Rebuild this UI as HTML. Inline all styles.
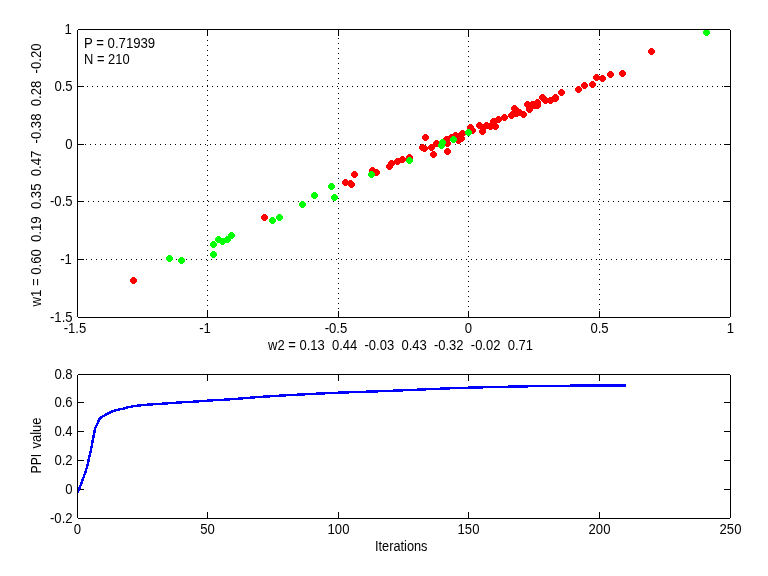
<!DOCTYPE html>
<html><head><meta charset="utf-8"><title>figure</title>
<style>html,body{margin:0;padding:0;background:#fff;}body{width:768px;height:576px;overflow:hidden;}svg{display:block;will-change:transform;}text{font-family:"Liberation Sans",sans-serif;font-size:14.50px;fill:#000;white-space:pre;}</style></head><body>
<svg width="768" height="576" viewBox="0 0 768 576">
<rect x="0" y="0" width="768" height="576" fill="#fff"/>
<g shape-rendering="crispEdges" fill="#000">
<path d="M82 86h1v1h-1zM87 86h1v1h-1zM92 86h1v1h-1zM97 86h1v1h-1zM102 86h1v1h-1zM107 86h1v1h-1zM112 86h1v1h-1zM117 86h1v1h-1zM122 86h1v1h-1zM127 86h1v1h-1zM132 86h1v1h-1zM137 86h1v1h-1zM142 86h1v1h-1zM147 86h1v1h-1zM152 86h1v1h-1zM157 86h1v1h-1zM162 86h1v1h-1zM167 86h1v1h-1zM172 86h1v1h-1zM177 86h1v1h-1zM182 86h1v1h-1zM187 86h1v1h-1zM192 86h1v1h-1zM197 86h1v1h-1zM202 86h1v1h-1zM207 86h1v1h-1zM212 86h1v1h-1zM217 86h1v1h-1zM222 86h1v1h-1zM227 86h1v1h-1zM232 86h1v1h-1zM237 86h1v1h-1zM242 86h1v1h-1zM247 86h1v1h-1zM252 86h1v1h-1zM257 86h1v1h-1zM262 86h1v1h-1zM267 86h1v1h-1zM272 86h1v1h-1zM277 86h1v1h-1zM282 86h1v1h-1zM287 86h1v1h-1zM292 86h1v1h-1zM297 86h1v1h-1zM302 86h1v1h-1zM307 86h1v1h-1zM312 86h1v1h-1zM317 86h1v1h-1zM322 86h1v1h-1zM327 86h1v1h-1zM332 86h1v1h-1zM337 86h1v1h-1zM342 86h1v1h-1zM347 86h1v1h-1zM352 86h1v1h-1zM357 86h1v1h-1zM362 86h1v1h-1zM367 86h1v1h-1zM372 86h1v1h-1zM377 86h1v1h-1zM382 86h1v1h-1zM387 86h1v1h-1zM392 86h1v1h-1zM397 86h1v1h-1zM402 86h1v1h-1zM407 86h1v1h-1zM412 86h1v1h-1zM417 86h1v1h-1zM422 86h1v1h-1zM427 86h1v1h-1zM432 86h1v1h-1zM437 86h1v1h-1zM442 86h1v1h-1zM447 86h1v1h-1zM452 86h1v1h-1zM457 86h1v1h-1zM462 86h1v1h-1zM467 86h1v1h-1zM472 86h1v1h-1zM477 86h1v1h-1zM482 86h1v1h-1zM487 86h1v1h-1zM492 86h1v1h-1zM497 86h1v1h-1zM502 86h1v1h-1zM507 86h1v1h-1zM512 86h1v1h-1zM517 86h1v1h-1zM522 86h1v1h-1zM527 86h1v1h-1zM532 86h1v1h-1zM537 86h1v1h-1zM542 86h1v1h-1zM547 86h1v1h-1zM552 86h1v1h-1zM557 86h1v1h-1zM562 86h1v1h-1zM567 86h1v1h-1zM572 86h1v1h-1zM577 86h1v1h-1zM582 86h1v1h-1zM587 86h1v1h-1zM592 86h1v1h-1zM597 86h1v1h-1zM602 86h1v1h-1zM607 86h1v1h-1zM612 86h1v1h-1zM617 86h1v1h-1zM622 86h1v1h-1zM627 86h1v1h-1zM632 86h1v1h-1zM637 86h1v1h-1zM642 86h1v1h-1zM647 86h1v1h-1zM652 86h1v1h-1zM657 86h1v1h-1zM662 86h1v1h-1zM667 86h1v1h-1zM672 86h1v1h-1zM677 86h1v1h-1zM682 86h1v1h-1zM687 86h1v1h-1zM692 86h1v1h-1zM697 86h1v1h-1zM702 86h1v1h-1zM707 86h1v1h-1zM712 86h1v1h-1zM717 86h1v1h-1zM722 86h1v1h-1zM727 86h1v1h-1zM80 144h1v1h-1zM85 144h1v1h-1zM90 144h1v1h-1zM95 144h1v1h-1zM100 144h1v1h-1zM105 144h1v1h-1zM110 144h1v1h-1zM115 144h1v1h-1zM120 144h1v1h-1zM125 144h1v1h-1zM130 144h1v1h-1zM135 144h1v1h-1zM140 144h1v1h-1zM145 144h1v1h-1zM150 144h1v1h-1zM155 144h1v1h-1zM160 144h1v1h-1zM165 144h1v1h-1zM170 144h1v1h-1zM175 144h1v1h-1zM180 144h1v1h-1zM185 144h1v1h-1zM190 144h1v1h-1zM195 144h1v1h-1zM200 144h1v1h-1zM205 144h1v1h-1zM210 144h1v1h-1zM215 144h1v1h-1zM220 144h1v1h-1zM225 144h1v1h-1zM230 144h1v1h-1zM235 144h1v1h-1zM240 144h1v1h-1zM245 144h1v1h-1zM250 144h1v1h-1zM255 144h1v1h-1zM260 144h1v1h-1zM265 144h1v1h-1zM270 144h1v1h-1zM275 144h1v1h-1zM280 144h1v1h-1zM285 144h1v1h-1zM290 144h1v1h-1zM295 144h1v1h-1zM300 144h1v1h-1zM305 144h1v1h-1zM310 144h1v1h-1zM315 144h1v1h-1zM320 144h1v1h-1zM325 144h1v1h-1zM330 144h1v1h-1zM335 144h1v1h-1zM340 144h1v1h-1zM345 144h1v1h-1zM350 144h1v1h-1zM355 144h1v1h-1zM360 144h1v1h-1zM365 144h1v1h-1zM370 144h1v1h-1zM375 144h1v1h-1zM380 144h1v1h-1zM385 144h1v1h-1zM390 144h1v1h-1zM395 144h1v1h-1zM400 144h1v1h-1zM405 144h1v1h-1zM410 144h1v1h-1zM415 144h1v1h-1zM420 144h1v1h-1zM425 144h1v1h-1zM430 144h1v1h-1zM435 144h1v1h-1zM440 144h1v1h-1zM445 144h1v1h-1zM450 144h1v1h-1zM455 144h1v1h-1zM460 144h1v1h-1zM465 144h1v1h-1zM470 144h1v1h-1zM475 144h1v1h-1zM480 144h1v1h-1zM485 144h1v1h-1zM490 144h1v1h-1zM495 144h1v1h-1zM500 144h1v1h-1zM505 144h1v1h-1zM510 144h1v1h-1zM515 144h1v1h-1zM520 144h1v1h-1zM525 144h1v1h-1zM530 144h1v1h-1zM535 144h1v1h-1zM540 144h1v1h-1zM545 144h1v1h-1zM550 144h1v1h-1zM555 144h1v1h-1zM560 144h1v1h-1zM565 144h1v1h-1zM570 144h1v1h-1zM575 144h1v1h-1zM580 144h1v1h-1zM585 144h1v1h-1zM590 144h1v1h-1zM595 144h1v1h-1zM600 144h1v1h-1zM605 144h1v1h-1zM610 144h1v1h-1zM615 144h1v1h-1zM620 144h1v1h-1zM625 144h1v1h-1zM630 144h1v1h-1zM635 144h1v1h-1zM640 144h1v1h-1zM645 144h1v1h-1zM650 144h1v1h-1zM655 144h1v1h-1zM660 144h1v1h-1zM665 144h1v1h-1zM670 144h1v1h-1zM675 144h1v1h-1zM680 144h1v1h-1zM685 144h1v1h-1zM690 144h1v1h-1zM695 144h1v1h-1zM700 144h1v1h-1zM705 144h1v1h-1zM710 144h1v1h-1zM715 144h1v1h-1zM720 144h1v1h-1zM725 144h1v1h-1zM78 201h1v1h-1zM83 201h1v1h-1zM88 201h1v1h-1zM93 201h1v1h-1zM98 201h1v1h-1zM103 201h1v1h-1zM108 201h1v1h-1zM113 201h1v1h-1zM118 201h1v1h-1zM123 201h1v1h-1zM128 201h1v1h-1zM133 201h1v1h-1zM138 201h1v1h-1zM143 201h1v1h-1zM148 201h1v1h-1zM153 201h1v1h-1zM158 201h1v1h-1zM163 201h1v1h-1zM168 201h1v1h-1zM173 201h1v1h-1zM178 201h1v1h-1zM183 201h1v1h-1zM188 201h1v1h-1zM193 201h1v1h-1zM198 201h1v1h-1zM203 201h1v1h-1zM208 201h1v1h-1zM213 201h1v1h-1zM218 201h1v1h-1zM223 201h1v1h-1zM228 201h1v1h-1zM233 201h1v1h-1zM238 201h1v1h-1zM243 201h1v1h-1zM248 201h1v1h-1zM253 201h1v1h-1zM258 201h1v1h-1zM263 201h1v1h-1zM268 201h1v1h-1zM273 201h1v1h-1zM278 201h1v1h-1zM283 201h1v1h-1zM288 201h1v1h-1zM293 201h1v1h-1zM298 201h1v1h-1zM303 201h1v1h-1zM308 201h1v1h-1zM313 201h1v1h-1zM318 201h1v1h-1zM323 201h1v1h-1zM328 201h1v1h-1zM333 201h1v1h-1zM338 201h1v1h-1zM343 201h1v1h-1zM348 201h1v1h-1zM353 201h1v1h-1zM358 201h1v1h-1zM363 201h1v1h-1zM368 201h1v1h-1zM373 201h1v1h-1zM378 201h1v1h-1zM383 201h1v1h-1zM388 201h1v1h-1zM393 201h1v1h-1zM398 201h1v1h-1zM403 201h1v1h-1zM408 201h1v1h-1zM413 201h1v1h-1zM418 201h1v1h-1zM423 201h1v1h-1zM428 201h1v1h-1zM433 201h1v1h-1zM438 201h1v1h-1zM443 201h1v1h-1zM448 201h1v1h-1zM453 201h1v1h-1zM458 201h1v1h-1zM463 201h1v1h-1zM468 201h1v1h-1zM473 201h1v1h-1zM478 201h1v1h-1zM483 201h1v1h-1zM488 201h1v1h-1zM493 201h1v1h-1zM498 201h1v1h-1zM503 201h1v1h-1zM508 201h1v1h-1zM513 201h1v1h-1zM518 201h1v1h-1zM523 201h1v1h-1zM528 201h1v1h-1zM533 201h1v1h-1zM538 201h1v1h-1zM543 201h1v1h-1zM548 201h1v1h-1zM553 201h1v1h-1zM558 201h1v1h-1zM563 201h1v1h-1zM568 201h1v1h-1zM573 201h1v1h-1zM578 201h1v1h-1zM583 201h1v1h-1zM588 201h1v1h-1zM593 201h1v1h-1zM598 201h1v1h-1zM603 201h1v1h-1zM608 201h1v1h-1zM613 201h1v1h-1zM618 201h1v1h-1zM623 201h1v1h-1zM628 201h1v1h-1zM633 201h1v1h-1zM638 201h1v1h-1zM643 201h1v1h-1zM648 201h1v1h-1zM653 201h1v1h-1zM658 201h1v1h-1zM663 201h1v1h-1zM668 201h1v1h-1zM673 201h1v1h-1zM678 201h1v1h-1zM683 201h1v1h-1zM688 201h1v1h-1zM693 201h1v1h-1zM698 201h1v1h-1zM703 201h1v1h-1zM708 201h1v1h-1zM713 201h1v1h-1zM718 201h1v1h-1zM723 201h1v1h-1zM728 201h1v1h-1zM81 259h1v1h-1zM86 259h1v1h-1zM91 259h1v1h-1zM96 259h1v1h-1zM101 259h1v1h-1zM106 259h1v1h-1zM111 259h1v1h-1zM116 259h1v1h-1zM121 259h1v1h-1zM126 259h1v1h-1zM131 259h1v1h-1zM136 259h1v1h-1zM141 259h1v1h-1zM146 259h1v1h-1zM151 259h1v1h-1zM156 259h1v1h-1zM161 259h1v1h-1zM166 259h1v1h-1zM171 259h1v1h-1zM176 259h1v1h-1zM181 259h1v1h-1zM186 259h1v1h-1zM191 259h1v1h-1zM196 259h1v1h-1zM201 259h1v1h-1zM206 259h1v1h-1zM211 259h1v1h-1zM216 259h1v1h-1zM221 259h1v1h-1zM226 259h1v1h-1zM231 259h1v1h-1zM236 259h1v1h-1zM241 259h1v1h-1zM246 259h1v1h-1zM251 259h1v1h-1zM256 259h1v1h-1zM261 259h1v1h-1zM266 259h1v1h-1zM271 259h1v1h-1zM276 259h1v1h-1zM281 259h1v1h-1zM286 259h1v1h-1zM291 259h1v1h-1zM296 259h1v1h-1zM301 259h1v1h-1zM306 259h1v1h-1zM311 259h1v1h-1zM316 259h1v1h-1zM321 259h1v1h-1zM326 259h1v1h-1zM331 259h1v1h-1zM336 259h1v1h-1zM341 259h1v1h-1zM346 259h1v1h-1zM351 259h1v1h-1zM356 259h1v1h-1zM361 259h1v1h-1zM366 259h1v1h-1zM371 259h1v1h-1zM376 259h1v1h-1zM381 259h1v1h-1zM386 259h1v1h-1zM391 259h1v1h-1zM396 259h1v1h-1zM401 259h1v1h-1zM406 259h1v1h-1zM411 259h1v1h-1zM416 259h1v1h-1zM421 259h1v1h-1zM426 259h1v1h-1zM431 259h1v1h-1zM436 259h1v1h-1zM441 259h1v1h-1zM446 259h1v1h-1zM451 259h1v1h-1zM456 259h1v1h-1zM461 259h1v1h-1zM466 259h1v1h-1zM471 259h1v1h-1zM476 259h1v1h-1zM481 259h1v1h-1zM486 259h1v1h-1zM491 259h1v1h-1zM496 259h1v1h-1zM501 259h1v1h-1zM506 259h1v1h-1zM511 259h1v1h-1zM516 259h1v1h-1zM521 259h1v1h-1zM526 259h1v1h-1zM531 259h1v1h-1zM536 259h1v1h-1zM541 259h1v1h-1zM546 259h1v1h-1zM551 259h1v1h-1zM556 259h1v1h-1zM561 259h1v1h-1zM566 259h1v1h-1zM571 259h1v1h-1zM576 259h1v1h-1zM581 259h1v1h-1zM586 259h1v1h-1zM591 259h1v1h-1zM596 259h1v1h-1zM601 259h1v1h-1zM606 259h1v1h-1zM611 259h1v1h-1zM616 259h1v1h-1zM621 259h1v1h-1zM626 259h1v1h-1zM631 259h1v1h-1zM636 259h1v1h-1zM641 259h1v1h-1zM646 259h1v1h-1zM651 259h1v1h-1zM656 259h1v1h-1zM661 259h1v1h-1zM666 259h1v1h-1zM671 259h1v1h-1zM676 259h1v1h-1zM681 259h1v1h-1zM686 259h1v1h-1zM691 259h1v1h-1zM696 259h1v1h-1zM701 259h1v1h-1zM706 259h1v1h-1zM711 259h1v1h-1zM716 259h1v1h-1zM721 259h1v1h-1zM726 259h1v1h-1zM207 30h1v1h-1zM207 35h1v1h-1zM207 40h1v1h-1zM207 45h1v1h-1zM207 50h1v1h-1zM207 55h1v1h-1zM207 60h1v1h-1zM207 65h1v1h-1zM207 70h1v1h-1zM207 75h1v1h-1zM207 80h1v1h-1zM207 85h1v1h-1zM207 90h1v1h-1zM207 95h1v1h-1zM207 100h1v1h-1zM207 105h1v1h-1zM207 110h1v1h-1zM207 115h1v1h-1zM207 120h1v1h-1zM207 125h1v1h-1zM207 130h1v1h-1zM207 135h1v1h-1zM207 140h1v1h-1zM207 145h1v1h-1zM207 150h1v1h-1zM207 155h1v1h-1zM207 160h1v1h-1zM207 165h1v1h-1zM207 170h1v1h-1zM207 175h1v1h-1zM207 180h1v1h-1zM207 185h1v1h-1zM207 190h1v1h-1zM207 195h1v1h-1zM207 200h1v1h-1zM207 205h1v1h-1zM207 210h1v1h-1zM207 215h1v1h-1zM207 220h1v1h-1zM207 225h1v1h-1zM207 230h1v1h-1zM207 235h1v1h-1zM207 240h1v1h-1zM207 245h1v1h-1zM207 250h1v1h-1zM207 255h1v1h-1zM207 260h1v1h-1zM207 265h1v1h-1zM207 270h1v1h-1zM207 275h1v1h-1zM207 280h1v1h-1zM207 285h1v1h-1zM207 290h1v1h-1zM207 295h1v1h-1zM207 300h1v1h-1zM207 305h1v1h-1zM207 310h1v1h-1zM207 315h1v1h-1zM338 33h1v1h-1zM338 38h1v1h-1zM338 43h1v1h-1zM338 48h1v1h-1zM338 53h1v1h-1zM338 58h1v1h-1zM338 63h1v1h-1zM338 68h1v1h-1zM338 73h1v1h-1zM338 78h1v1h-1zM338 83h1v1h-1zM338 88h1v1h-1zM338 93h1v1h-1zM338 98h1v1h-1zM338 103h1v1h-1zM338 108h1v1h-1zM338 113h1v1h-1zM338 118h1v1h-1zM338 123h1v1h-1zM338 128h1v1h-1zM338 133h1v1h-1zM338 138h1v1h-1zM338 143h1v1h-1zM338 148h1v1h-1zM338 153h1v1h-1zM338 158h1v1h-1zM338 163h1v1h-1zM338 168h1v1h-1zM338 173h1v1h-1zM338 178h1v1h-1zM338 183h1v1h-1zM338 188h1v1h-1zM338 193h1v1h-1zM338 198h1v1h-1zM338 203h1v1h-1zM338 208h1v1h-1zM338 213h1v1h-1zM338 218h1v1h-1zM338 223h1v1h-1zM338 228h1v1h-1zM338 233h1v1h-1zM338 238h1v1h-1zM338 243h1v1h-1zM338 248h1v1h-1zM338 253h1v1h-1zM338 258h1v1h-1zM338 263h1v1h-1zM338 268h1v1h-1zM338 273h1v1h-1zM338 278h1v1h-1zM338 283h1v1h-1zM338 288h1v1h-1zM338 293h1v1h-1zM338 298h1v1h-1zM338 303h1v1h-1zM338 308h1v1h-1zM338 313h1v1h-1zM468 31h1v1h-1zM468 36h1v1h-1zM468 41h1v1h-1zM468 46h1v1h-1zM468 51h1v1h-1zM468 56h1v1h-1zM468 61h1v1h-1zM468 66h1v1h-1zM468 71h1v1h-1zM468 76h1v1h-1zM468 81h1v1h-1zM468 86h1v1h-1zM468 91h1v1h-1zM468 96h1v1h-1zM468 101h1v1h-1zM468 106h1v1h-1zM468 111h1v1h-1zM468 116h1v1h-1zM468 121h1v1h-1zM468 126h1v1h-1zM468 131h1v1h-1zM468 136h1v1h-1zM468 141h1v1h-1zM468 146h1v1h-1zM468 151h1v1h-1zM468 156h1v1h-1zM468 161h1v1h-1zM468 166h1v1h-1zM468 171h1v1h-1zM468 176h1v1h-1zM468 181h1v1h-1zM468 186h1v1h-1zM468 191h1v1h-1zM468 196h1v1h-1zM468 201h1v1h-1zM468 206h1v1h-1zM468 211h1v1h-1zM468 216h1v1h-1zM468 221h1v1h-1zM468 226h1v1h-1zM468 231h1v1h-1zM468 236h1v1h-1zM468 241h1v1h-1zM468 246h1v1h-1zM468 251h1v1h-1zM468 256h1v1h-1zM468 261h1v1h-1zM468 266h1v1h-1zM468 271h1v1h-1zM468 276h1v1h-1zM468 281h1v1h-1zM468 286h1v1h-1zM468 291h1v1h-1zM468 296h1v1h-1zM468 301h1v1h-1zM468 306h1v1h-1zM468 311h1v1h-1zM468 316h1v1h-1zM599 34h1v1h-1zM599 39h1v1h-1zM599 44h1v1h-1zM599 49h1v1h-1zM599 54h1v1h-1zM599 59h1v1h-1zM599 64h1v1h-1zM599 69h1v1h-1zM599 74h1v1h-1zM599 79h1v1h-1zM599 84h1v1h-1zM599 89h1v1h-1zM599 94h1v1h-1zM599 99h1v1h-1zM599 104h1v1h-1zM599 109h1v1h-1zM599 114h1v1h-1zM599 119h1v1h-1zM599 124h1v1h-1zM599 129h1v1h-1zM599 134h1v1h-1zM599 139h1v1h-1zM599 144h1v1h-1zM599 149h1v1h-1zM599 154h1v1h-1zM599 159h1v1h-1zM599 164h1v1h-1zM599 169h1v1h-1zM599 174h1v1h-1zM599 179h1v1h-1zM599 184h1v1h-1zM599 189h1v1h-1zM599 194h1v1h-1zM599 199h1v1h-1zM599 204h1v1h-1zM599 209h1v1h-1zM599 214h1v1h-1zM599 219h1v1h-1zM599 224h1v1h-1zM599 229h1v1h-1zM599 234h1v1h-1zM599 239h1v1h-1zM599 244h1v1h-1zM599 249h1v1h-1zM599 254h1v1h-1zM599 259h1v1h-1zM599 264h1v1h-1zM599 269h1v1h-1zM599 274h1v1h-1zM599 279h1v1h-1zM599 284h1v1h-1zM599 289h1v1h-1zM599 294h1v1h-1zM599 299h1v1h-1zM599 304h1v1h-1zM599 309h1v1h-1zM599 314h1v1h-1z"/>
</g>
<path shape-rendering="crispEdges" fill="#ff0000" d="M132 277h3v1h1v1h1v3h-1v1h-1v1h-3v-1h-1v-1h-1v-3h1v-1h1zM263 214h3v1h1v1h1v3h-1v1h-1v1h-3v-1h-1v-1h-1v-3h1v-1h1zM344 179h3v1h1v1h1v3h-1v1h-1v1h-3v-1h-1v-1h-1v-3h1v-1h1zM349 180h3v1h1v1h1v3h-1v1h-1v1h-3v-1h-1v-1h-1v-3h1v-1h1zM350 181h3v1h1v1h1v3h-1v1h-1v1h-3v-1h-1v-1h-1v-3h1v-1h1zM353 171h3v1h1v1h1v3h-1v1h-1v1h-3v-1h-1v-1h-1v-3h1v-1h1zM371 167h3v1h1v1h1v3h-1v1h-1v1h-3v-1h-1v-1h-1v-3h1v-1h1zM375 169h3v1h1v1h1v3h-1v1h-1v1h-3v-1h-1v-1h-1v-3h1v-1h1zM388 163h3v1h1v1h1v3h-1v1h-1v1h-3v-1h-1v-1h-1v-3h1v-1h1zM390 160h3v1h1v1h1v3h-1v1h-1v1h-3v-1h-1v-1h-1v-3h1v-1h1zM396 158h3v1h1v1h1v3h-1v1h-1v1h-3v-1h-1v-1h-1v-3h1v-1h1zM401 156h3v1h1v1h1v3h-1v1h-1v1h-3v-1h-1v-1h-1v-3h1v-1h1zM408 154h3v1h1v1h1v3h-1v1h-1v1h-3v-1h-1v-1h-1v-3h1v-1h1zM421 144h3v1h1v1h1v3h-1v1h-1v1h-3v-1h-1v-1h-1v-3h1v-1h1zM423 145h3v1h1v1h1v3h-1v1h-1v1h-3v-1h-1v-1h-1v-3h1v-1h1zM424 134h3v1h1v1h1v3h-1v1h-1v1h-3v-1h-1v-1h-1v-3h1v-1h1zM430 144h3v1h1v1h1v3h-1v1h-1v1h-3v-1h-1v-1h-1v-3h1v-1h1zM432 151h3v1h1v1h1v3h-1v1h-1v1h-3v-1h-1v-1h-1v-3h1v-1h1zM435 140h3v1h1v1h1v3h-1v1h-1v1h-3v-1h-1v-1h-1v-3h1v-1h1zM446 148h3v1h1v1h1v3h-1v1h-1v1h-3v-1h-1v-1h-1v-3h1v-1h1zM445 136h3v1h1v1h1v3h-1v1h-1v1h-3v-1h-1v-1h-1v-3h1v-1h1zM446 140h3v1h1v1h1v3h-1v1h-1v1h-3v-1h-1v-1h-1v-3h1v-1h1zM450 134h3v1h1v1h1v3h-1v1h-1v1h-3v-1h-1v-1h-1v-3h1v-1h1zM454 132h3v1h1v1h1v3h-1v1h-1v1h-3v-1h-1v-1h-1v-3h1v-1h1zM457 137h3v1h1v1h1v3h-1v1h-1v1h-3v-1h-1v-1h-1v-3h1v-1h1zM458 133h3v1h1v1h1v3h-1v1h-1v1h-3v-1h-1v-1h-1v-3h1v-1h1zM460 135h3v1h1v1h1v3h-1v1h-1v1h-3v-1h-1v-1h-1v-3h1v-1h1zM461 130h3v1h1v1h1v3h-1v1h-1v1h-3v-1h-1v-1h-1v-3h1v-1h1zM469 124h3v1h1v1h1v3h-1v1h-1v1h-3v-1h-1v-1h-1v-3h1v-1h1zM471 127h3v1h1v1h1v3h-1v1h-1v1h-3v-1h-1v-1h-1v-3h1v-1h1zM478 122h3v1h1v1h1v3h-1v1h-1v1h-3v-1h-1v-1h-1v-3h1v-1h1zM481 128h3v1h1v1h1v3h-1v1h-1v1h-3v-1h-1v-1h-1v-3h1v-1h1zM482 124h3v1h1v1h1v3h-1v1h-1v1h-3v-1h-1v-1h-1v-3h1v-1h1zM485 122h3v1h1v1h1v3h-1v1h-1v1h-3v-1h-1v-1h-1v-3h1v-1h1zM489 123h3v1h1v1h1v3h-1v1h-1v1h-3v-1h-1v-1h-1v-3h1v-1h1zM492 118h3v1h1v1h1v3h-1v1h-1v1h-3v-1h-1v-1h-1v-3h1v-1h1zM494 123h3v1h1v1h1v3h-1v1h-1v1h-3v-1h-1v-1h-1v-3h1v-1h1zM497 116h3v1h1v1h1v3h-1v1h-1v1h-3v-1h-1v-1h-1v-3h1v-1h1zM503 114h3v1h1v1h1v3h-1v1h-1v1h-3v-1h-1v-1h-1v-3h1v-1h1zM510 112h3v1h1v1h1v3h-1v1h-1v1h-3v-1h-1v-1h-1v-3h1v-1h1zM513 105h3v1h1v1h1v3h-1v1h-1v1h-3v-1h-1v-1h-1v-3h1v-1h1zM515 110h3v1h1v1h1v3h-1v1h-1v1h-3v-1h-1v-1h-1v-3h1v-1h1zM518 109h3v1h1v1h1v3h-1v1h-1v1h-3v-1h-1v-1h-1v-3h1v-1h1zM522 111h3v1h1v1h1v3h-1v1h-1v1h-3v-1h-1v-1h-1v-3h1v-1h1zM516 108h3v1h1v1h1v3h-1v1h-1v1h-3v-1h-1v-1h-1v-3h1v-1h1zM513 109h3v1h1v1h1v3h-1v1h-1v1h-3v-1h-1v-1h-1v-3h1v-1h1zM526 101h3v1h1v1h1v3h-1v1h-1v1h-3v-1h-1v-1h-1v-3h1v-1h1zM528 106h3v1h1v1h1v3h-1v1h-1v1h-3v-1h-1v-1h-1v-3h1v-1h1zM531 101h3v1h1v1h1v3h-1v1h-1v1h-3v-1h-1v-1h-1v-3h1v-1h1zM533 102h3v1h1v1h1v3h-1v1h-1v1h-3v-1h-1v-1h-1v-3h1v-1h1zM536 99h3v1h1v1h1v3h-1v1h-1v1h-3v-1h-1v-1h-1v-3h1v-1h1zM536 102h3v1h1v1h1v3h-1v1h-1v1h-3v-1h-1v-1h-1v-3h1v-1h1zM541 94h3v1h1v1h1v3h-1v1h-1v1h-3v-1h-1v-1h-1v-3h1v-1h1zM544 97h3v1h1v1h1v3h-1v1h-1v1h-3v-1h-1v-1h-1v-3h1v-1h1zM549 97h3v1h1v1h1v3h-1v1h-1v1h-3v-1h-1v-1h-1v-3h1v-1h1zM554 95h3v1h1v1h1v3h-1v1h-1v1h-3v-1h-1v-1h-1v-3h1v-1h1zM554 94h3v1h1v1h1v3h-1v1h-1v1h-3v-1h-1v-1h-1v-3h1v-1h1zM560 89h3v1h1v1h1v3h-1v1h-1v1h-3v-1h-1v-1h-1v-3h1v-1h1zM577 86h3v1h1v1h1v3h-1v1h-1v1h-3v-1h-1v-1h-1v-3h1v-1h1zM583 82h3v1h1v1h1v3h-1v1h-1v1h-3v-1h-1v-1h-1v-3h1v-1h1zM591 81h3v1h1v1h1v3h-1v1h-1v1h-3v-1h-1v-1h-1v-3h1v-1h1zM595 74h3v1h1v1h1v3h-1v1h-1v1h-3v-1h-1v-1h-1v-3h1v-1h1zM601 75h3v1h1v1h1v3h-1v1h-1v1h-3v-1h-1v-1h-1v-3h1v-1h1zM609 71h3v1h1v1h1v3h-1v1h-1v1h-3v-1h-1v-1h-1v-3h1v-1h1zM621 70h3v1h1v1h1v3h-1v1h-1v1h-3v-1h-1v-1h-1v-3h1v-1h1zM650 48h3v1h1v1h1v3h-1v1h-1v1h-3v-1h-1v-1h-1v-3h1v-1h1z"/>
<path shape-rendering="crispEdges" fill="#00ff00" d="M168 255h3v1h1v1h1v3h-1v1h-1v1h-3v-1h-1v-1h-1v-3h1v-1h1zM180 257h3v1h1v1h1v3h-1v1h-1v1h-3v-1h-1v-1h-1v-3h1v-1h1zM212 251h3v1h1v1h1v3h-1v1h-1v1h-3v-1h-1v-1h-1v-3h1v-1h1zM212 241h3v1h1v1h1v3h-1v1h-1v1h-3v-1h-1v-1h-1v-3h1v-1h1zM217 236h3v1h1v1h1v3h-1v1h-1v1h-3v-1h-1v-1h-1v-3h1v-1h1zM221 238h3v1h1v1h1v3h-1v1h-1v1h-3v-1h-1v-1h-1v-3h1v-1h1zM226 236h3v1h1v1h1v3h-1v1h-1v1h-3v-1h-1v-1h-1v-3h1v-1h1zM230 232h3v1h1v1h1v3h-1v1h-1v1h-3v-1h-1v-1h-1v-3h1v-1h1zM271 217h3v1h1v1h1v3h-1v1h-1v1h-3v-1h-1v-1h-1v-3h1v-1h1zM278 214h3v1h1v1h1v3h-1v1h-1v1h-3v-1h-1v-1h-1v-3h1v-1h1zM301 201h3v1h1v1h1v3h-1v1h-1v1h-3v-1h-1v-1h-1v-3h1v-1h1zM313 192h3v1h1v1h1v3h-1v1h-1v1h-3v-1h-1v-1h-1v-3h1v-1h1zM330 183h3v1h1v1h1v3h-1v1h-1v1h-3v-1h-1v-1h-1v-3h1v-1h1zM333 194h3v1h1v1h1v3h-1v1h-1v1h-3v-1h-1v-1h-1v-3h1v-1h1zM370 171h3v1h1v1h1v3h-1v1h-1v1h-3v-1h-1v-1h-1v-3h1v-1h1zM408 157h3v1h1v1h1v3h-1v1h-1v1h-3v-1h-1v-1h-1v-3h1v-1h1zM440 142h3v1h1v1h1v3h-1v1h-1v1h-3v-1h-1v-1h-1v-3h1v-1h1zM441 139h3v1h1v1h1v3h-1v1h-1v1h-3v-1h-1v-1h-1v-3h1v-1h1zM452 136h3v1h1v1h1v3h-1v1h-1v1h-3v-1h-1v-1h-1v-3h1v-1h1zM467 129h3v1h1v1h1v3h-1v1h-1v1h-3v-1h-1v-1h-1v-3h1v-1h1zM705 29h3v1h1v1h1v3h-1v1h-1v1h-3v-1h-1v-1h-1v-3h1v-1h1z"/>
<g shape-rendering="crispEdges" fill="#000">
<path d="M77 29h654v1h-654zM77 317h654v1h-654zM77 29v289h1v-289zM730 29v289h1v-289z"/>
<path d="M207 30h1v6h-1zM207 311h1v6h-1zM338 30h1v6h-1zM338 311h1v6h-1zM468 30h1v6h-1zM468 311h1v6h-1zM599 30h1v6h-1zM599 311h1v6h-1zM78 86h6v1h-6zM724 86h6v1h-6zM78 144h6v1h-6zM724 144h6v1h-6zM78 201h6v1h-6zM724 201h6v1h-6zM78 259h6v1h-6zM724 259h6v1h-6z"/>
</g>
<text transform="translate(71.90 34.00) scale(0.9050 1)" text-anchor="end" xml:space="preserve">1</text>
<text transform="translate(72.60 91.00) scale(0.9050 1)" text-anchor="end" xml:space="preserve">0.5</text>
<text transform="translate(72.60 149.00) scale(0.9050 1)" text-anchor="end" xml:space="preserve">0</text>
<text transform="translate(72.60 206.00) scale(0.9050 1)" text-anchor="end" xml:space="preserve">-0.5</text>
<text transform="translate(71.90 264.00) scale(0.9050 1)" text-anchor="end" xml:space="preserve">-1</text>
<text transform="translate(72.60 322.00) scale(0.9050 1)" text-anchor="end" xml:space="preserve">-1.5</text>
<text transform="translate(75.00 333.00) scale(0.9050 1)" text-anchor="middle" xml:space="preserve">-1.5</text>
<text transform="translate(205.00 333.00) scale(0.9050 1)" text-anchor="middle" xml:space="preserve">-1</text>
<text transform="translate(336.00 333.00) scale(0.9050 1)" text-anchor="middle" xml:space="preserve">-0.5</text>
<text transform="translate(468.50 333.00) scale(0.9050 1)" text-anchor="middle" xml:space="preserve">0</text>
<text transform="translate(599.50 333.00) scale(0.9050 1)" text-anchor="middle" xml:space="preserve">0.5</text>
<text transform="translate(730.50 333.00) scale(0.9050 1)" text-anchor="middle" xml:space="preserve">1</text>
<text transform="translate(84.00 48.00) scale(0.9050 1)" text-anchor="start" xml:space="preserve" textLength="78.67" lengthAdjust="spacingAndGlyphs">P = 0.71939</text>
<text transform="translate(84.00 64.00) scale(0.9050 1)" text-anchor="start" xml:space="preserve" textLength="50.39" lengthAdjust="spacingAndGlyphs">N = 210</text>
<text transform="translate(268.00 350.00) scale(0.9050 1)" text-anchor="start" xml:space="preserve" textLength="292.82" lengthAdjust="spacingAndGlyphs">w2 = 0.13  0.44  -0.03  0.43  -0.32  -0.02  0.71</text>
<text transform="translate(41.00 306.50) rotate(-90) scale(0.9050 1)" text-anchor="start" xml:space="preserve" textLength="290.61" lengthAdjust="spacingAndGlyphs">w1 = 0.60  0.19  0.35  0.47  -0.38  0.28  -0.20</text>
<path shape-rendering="crispEdges" fill="#000" d="M207 375h1v6h-1zM207 512h1v6h-1zM338 375h1v6h-1zM338 512h1v6h-1zM468 375h1v6h-1zM468 512h1v6h-1zM599 375h1v6h-1zM599 512h1v6h-1zM78 402h6v1h-6zM724 402h6v1h-6zM78 431h6v1h-6zM724 431h6v1h-6zM78 460h6v1h-6zM724 460h6v1h-6zM78 489h6v1h-6zM724 489h6v1h-6z"/>
<polyline points="77.5,492.50 78.0,491.42 78.5,490.31 79.0,489.17 79.5,488.02 80.0,486.84 80.5,485.63 81.0,484.36 81.5,483.03 82.0,481.66 82.5,480.27 83.0,478.90 83.5,477.52 84.0,476.12 84.5,474.70 85.0,473.29 85.5,471.85 86.0,470.32 86.5,468.62 87.0,466.76 87.5,464.82 88.0,462.82 88.5,460.66 89.0,458.08 89.5,455.50 90.0,453.70 90.5,452.07 91.0,449.93 91.5,447.20 92.0,444.43 92.5,441.63 93.0,439.05 93.5,436.59 94.0,434.17 94.5,431.75 95.0,429.09 95.5,427.48 96.0,426.26 96.5,425.25 97.0,424.32 97.5,423.32 98.0,422.14 98.5,420.87 99.0,419.74 99.5,418.98 100.0,418.44 100.5,417.98 101.0,417.58 101.5,417.23 102.0,416.91 102.5,416.61 103.0,416.31 103.5,416.00 104.0,415.68 104.5,415.37 105.0,415.08 105.5,414.79 106.0,414.50 106.5,414.23 107.0,413.96 107.5,413.70 108.0,413.45 108.5,413.20 109.0,412.95 109.5,412.71 110.0,412.47 110.5,412.23 111.0,412.00 111.5,411.78 112.0,411.57 112.5,411.36 113.0,411.17 113.5,411.00 114.0,410.84 114.5,410.68 115.0,410.54 115.5,410.40 116.0,410.26 116.5,410.13 117.0,410.01 117.5,409.89 118.0,409.77 118.5,409.65 119.0,409.54 119.5,409.43 120.0,409.32 120.5,409.22 121.0,409.13 121.5,409.03 122.0,408.93 122.5,408.83 123.0,408.73 123.5,408.62 124.0,408.50 124.5,408.37 125.0,408.23 125.5,408.08 126.0,407.92 126.5,407.77 127.0,407.61 127.5,407.45 128.0,407.31 128.5,407.18 129.0,407.06 129.5,406.96 130.0,406.87 130.5,406.78 131.0,406.69 131.5,406.60 132.0,406.51 132.5,406.43 133.0,406.35 133.5,406.27 134.0,406.19 134.5,406.12 135.0,406.04 135.5,405.97 136.0,405.90 136.5,405.83 137.0,405.77 137.5,405.70 138.0,405.64 138.5,405.58 139.0,405.52 139.5,405.46 140.0,405.40 140.5,405.34 141.0,405.29 141.5,405.23 142.0,405.18 142.5,405.13 143.0,405.08 143.5,405.03 144.0,404.98 144.5,404.94 145.0,404.89 145.5,404.84 146.0,404.80 146.5,404.76 147.0,404.71 147.5,404.67 148.0,404.63 148.5,404.60 149.0,404.56 149.5,404.52 150.0,404.49 150.5,404.45 151.0,404.42 151.5,404.39 152.0,404.35 152.5,404.32 153.0,404.29 153.5,404.26 154.0,404.23 154.5,404.20 155.0,404.17 155.5,404.14 156.0,404.11 156.5,404.08 157.0,404.05 157.5,404.03 158.0,404.00 158.5,403.97 159.0,403.94 159.5,403.91 160.0,403.88 160.5,403.84 161.0,403.81 161.5,403.78 162.0,403.75 162.5,403.71 163.0,403.68 163.5,403.64 164.0,403.61 164.5,403.57 165.0,403.54 165.5,403.50 166.0,403.46 166.5,403.43 167.0,403.39 167.5,403.35 168.0,403.32 168.5,403.28 169.0,403.24 169.5,403.21 170.0,403.17 170.5,403.13 171.0,403.09 171.5,403.06 172.0,403.02 172.5,402.98 173.0,402.94 173.5,402.91 174.0,402.87 174.5,402.83 175.0,402.80 175.5,402.76 176.0,402.73 176.5,402.69 177.0,402.66 177.5,402.62 178.0,402.59 178.5,402.55 179.0,402.52 179.5,402.49 180.0,402.45 180.5,402.42 181.0,402.39 181.5,402.36 182.0,402.33 182.5,402.30 183.0,402.27 183.5,402.24 184.0,402.21 184.5,402.18 185.0,402.15 185.5,402.12 186.0,402.09 186.5,402.07 187.0,402.04 187.5,402.01 188.0,401.98 188.5,401.95 189.0,401.92 189.5,401.89 190.0,401.86 190.5,401.84 191.0,401.81 191.5,401.78 192.0,401.75 192.5,401.72 193.0,401.69 193.5,401.66 194.0,401.63 194.5,401.60 195.0,401.56 195.5,401.53 196.0,401.50 196.5,401.47 197.0,401.43 197.5,401.40 198.0,401.36 198.5,401.33 199.0,401.29 199.5,401.26 200.0,401.22 200.5,401.18 201.0,401.14 201.5,401.11 202.0,401.07 202.5,401.03 203.0,400.99 203.5,400.95 204.0,400.92 204.5,400.88 205.0,400.84 205.5,400.80 206.0,400.76 206.5,400.73 207.0,400.69 207.5,400.65 208.0,400.62 208.5,400.58 209.0,400.54 209.5,400.51 210.0,400.47 210.5,400.44 211.0,400.41 211.5,400.37 212.0,400.34 212.5,400.31 213.0,400.28 213.5,400.25 214.0,400.22 214.5,400.20 215.0,400.17 215.5,400.14 216.0,400.12 216.5,400.09 217.0,400.07 217.5,400.04 218.0,400.02 218.5,399.99 219.0,399.97 219.5,399.94 220.0,399.92 220.5,399.89 221.0,399.87 221.5,399.84 222.0,399.81 222.5,399.79 223.0,399.76 223.5,399.73 224.0,399.70 224.5,399.67 225.0,399.64 225.5,399.61 226.0,399.57 226.5,399.54 227.0,399.51 227.5,399.47 228.0,399.44 228.5,399.41 229.0,399.37 229.5,399.34 230.0,399.30 230.5,399.26 231.0,399.23 231.5,399.19 232.0,399.15 232.5,399.12 233.0,399.08 233.5,399.04 234.0,399.00 234.5,398.96 235.0,398.92 235.5,398.88 236.0,398.84 236.5,398.80 237.0,398.76 237.5,398.72 238.0,398.68 238.5,398.64 239.0,398.60 239.5,398.56 240.0,398.52 240.5,398.48 241.0,398.44 241.5,398.39 242.0,398.35 242.5,398.31 243.0,398.27 243.5,398.23 244.0,398.19 244.5,398.14 245.0,398.10 245.5,398.06 246.0,398.02 246.5,397.98 247.0,397.94 247.5,397.89 248.0,397.85 248.5,397.81 249.0,397.77 249.5,397.73 250.0,397.69 250.5,397.65 251.0,397.61 251.5,397.57 252.0,397.53 252.5,397.49 253.0,397.45 253.5,397.41 254.0,397.37 254.5,397.33 255.0,397.29 255.5,397.25 256.0,397.21 256.5,397.18 257.0,397.14 257.5,397.10 258.0,397.06 258.5,397.03 259.0,396.99 259.5,396.96 260.0,396.92 260.5,396.89 261.0,396.85 261.5,396.82 262.0,396.78 262.5,396.75 263.0,396.72 263.5,396.69 264.0,396.66 264.5,396.62 265.0,396.59 265.5,396.56 266.0,396.53 266.5,396.50 267.0,396.47 267.5,396.43 268.0,396.40 268.5,396.37 269.0,396.34 269.5,396.31 270.0,396.28 270.5,396.25 271.0,396.22 271.5,396.19 272.0,396.16 272.5,396.13 273.0,396.09 273.5,396.06 274.0,396.03 274.5,396.00 275.0,395.97 275.5,395.94 276.0,395.91 276.5,395.88 277.0,395.85 277.5,395.82 278.0,395.79 278.5,395.76 279.0,395.73 279.5,395.70 280.0,395.67 280.5,395.64 281.0,395.62 281.5,395.59 282.0,395.56 282.5,395.53 283.0,395.50 283.5,395.47 284.0,395.44 284.5,395.41 285.0,395.38 285.5,395.35 286.0,395.32 286.5,395.30 287.0,395.27 287.5,395.24 288.0,395.21 288.5,395.18 289.0,395.15 289.5,395.13 290.0,395.10 290.5,395.07 291.0,395.04 291.5,395.01 292.0,394.99 292.5,394.96 293.0,394.93 293.5,394.90 294.0,394.88 294.5,394.85 295.0,394.82 295.5,394.79 296.0,394.77 296.5,394.74 297.0,394.71 297.5,394.68 298.0,394.66 298.5,394.63 299.0,394.60 299.5,394.58 300.0,394.55 300.5,394.52 301.0,394.50 301.5,394.47 302.0,394.44 302.5,394.42 303.0,394.39 303.5,394.36 304.0,394.34 304.5,394.31 305.0,394.29 305.5,394.26 306.0,394.23 306.5,394.21 307.0,394.18 307.5,394.16 308.0,394.13 308.5,394.11 309.0,394.08 309.5,394.06 310.0,394.03 310.5,394.01 311.0,393.98 311.5,393.96 312.0,393.93 312.5,393.91 313.0,393.88 313.5,393.86 314.0,393.83 314.5,393.81 315.0,393.78 315.5,393.76 316.0,393.73 316.5,393.71 317.0,393.68 317.5,393.66 318.0,393.64 318.5,393.61 319.0,393.59 319.5,393.56 320.0,393.54 320.5,393.52 321.0,393.49 321.5,393.47 322.0,393.45 322.5,393.42 323.0,393.40 323.5,393.38 324.0,393.35 324.5,393.33 325.0,393.31 325.5,393.28 326.0,393.26 326.5,393.24 327.0,393.21 327.5,393.19 328.0,393.17 328.5,393.15 329.0,393.12 329.5,393.10 330.0,393.08 330.5,393.06 331.0,393.03 331.5,393.01 332.0,392.99 332.5,392.97 333.0,392.95 333.5,392.92 334.0,392.90 334.5,392.88 335.0,392.86 335.5,392.84 336.0,392.82 336.5,392.79 337.0,392.77 337.5,392.75 338.0,392.73 338.5,392.71 339.0,392.69 339.5,392.67 340.0,392.65 340.5,392.62 341.0,392.60 341.5,392.58 342.0,392.56 342.5,392.54 343.0,392.52 343.5,392.50 344.0,392.48 344.5,392.46 345.0,392.45 345.5,392.43 346.0,392.41 346.5,392.39 347.0,392.37 347.5,392.35 348.0,392.33 348.5,392.31 349.0,392.29 349.5,392.27 350.0,392.26 350.5,392.24 351.0,392.22 351.5,392.20 352.0,392.18 352.5,392.17 353.0,392.15 353.5,392.13 354.0,392.11 354.5,392.09 355.0,392.08 355.5,392.06 356.0,392.04 356.5,392.02 357.0,392.01 357.5,391.99 358.0,391.97 358.5,391.95 359.0,391.94 359.5,391.92 360.0,391.90 360.5,391.89 361.0,391.87 361.5,391.85 362.0,391.84 362.5,391.82 363.0,391.80 363.5,391.78 364.0,391.77 364.5,391.75 365.0,391.73 365.5,391.72 366.0,391.70 366.5,391.68 367.0,391.67 367.5,391.65 368.0,391.63 368.5,391.62 369.0,391.60 369.5,391.58 370.0,391.56 370.5,391.55 371.0,391.53 371.5,391.51 372.0,391.50 372.5,391.48 373.0,391.46 373.5,391.45 374.0,391.43 374.5,391.41 375.0,391.39 375.5,391.38 376.0,391.36 376.5,391.34 377.0,391.33 377.5,391.31 378.0,391.29 378.5,391.27 379.0,391.26 379.5,391.24 380.0,391.22 380.5,391.20 381.0,391.18 381.5,391.17 382.0,391.15 382.5,391.13 383.0,391.11 383.5,391.09 384.0,391.07 384.5,391.06 385.0,391.04 385.5,391.02 386.0,391.00 386.5,390.98 387.0,390.96 387.5,390.94 388.0,390.92 388.5,390.90 389.0,390.89 389.5,390.87 390.0,390.85 390.5,390.83 391.0,390.81 391.5,390.79 392.0,390.77 392.5,390.75 393.0,390.73 393.5,390.71 394.0,390.69 394.5,390.67 395.0,390.65 395.5,390.63 396.0,390.60 396.5,390.58 397.0,390.56 397.5,390.54 398.0,390.52 398.5,390.50 399.0,390.48 399.5,390.46 400.0,390.44 400.5,390.42 401.0,390.40 401.5,390.37 402.0,390.35 402.5,390.33 403.0,390.31 403.5,390.29 404.0,390.27 404.5,390.25 405.0,390.22 405.5,390.20 406.0,390.18 406.5,390.16 407.0,390.14 407.5,390.12 408.0,390.09 408.5,390.07 409.0,390.05 409.5,390.03 410.0,390.01 410.5,389.98 411.0,389.96 411.5,389.94 412.0,389.92 412.5,389.90 413.0,389.87 413.5,389.85 414.0,389.83 414.5,389.81 415.0,389.79 415.5,389.76 416.0,389.74 416.5,389.72 417.0,389.70 417.5,389.68 418.0,389.65 418.5,389.63 419.0,389.61 419.5,389.59 420.0,389.57 420.5,389.54 421.0,389.52 421.5,389.50 422.0,389.48 422.5,389.46 423.0,389.43 423.5,389.41 424.0,389.39 424.5,389.37 425.0,389.35 425.5,389.32 426.0,389.30 426.5,389.28 427.0,389.26 427.5,389.24 428.0,389.21 428.5,389.19 429.0,389.17 429.5,389.15 430.0,389.13 430.5,389.11 431.0,389.08 431.5,389.06 432.0,389.04 432.5,389.02 433.0,389.00 433.5,388.98 434.0,388.95 434.5,388.93 435.0,388.91 435.5,388.89 436.0,388.87 436.5,388.85 437.0,388.83 437.5,388.81 438.0,388.79 438.5,388.77 439.0,388.74 439.5,388.72 440.0,388.70 440.5,388.68 441.0,388.66 441.5,388.64 442.0,388.62 442.5,388.60 443.0,388.58 443.5,388.56 444.0,388.54 444.5,388.52 445.0,388.50 445.5,388.48 446.0,388.46 446.5,388.44 447.0,388.42 447.5,388.40 448.0,388.38 448.5,388.37 449.0,388.35 449.5,388.33 450.0,388.31 450.5,388.29 451.0,388.27 451.5,388.25 452.0,388.23 452.5,388.22 453.0,388.20 453.5,388.18 454.0,388.16 454.5,388.14 455.0,388.13 455.5,388.11 456.0,388.09 456.5,388.07 457.0,388.06 457.5,388.04 458.0,388.02 458.5,388.00 459.0,387.99 459.5,387.97 460.0,387.95 460.5,387.94 461.0,387.92 461.5,387.91 462.0,387.89 462.5,387.87 463.0,387.86 463.5,387.84 464.0,387.83 464.5,387.81 465.0,387.80 465.5,387.78 466.0,387.77 466.5,387.75 467.0,387.74 467.5,387.72 468.0,387.71 468.5,387.69 469.0,387.68 469.5,387.67 470.0,387.65 470.5,387.64 471.0,387.62 471.5,387.61 472.0,387.60 472.5,387.58 473.0,387.57 473.5,387.56 474.0,387.54 474.5,387.53 475.0,387.51 475.5,387.50 476.0,387.49 476.5,387.47 477.0,387.46 477.5,387.45 478.0,387.43 478.5,387.42 479.0,387.41 479.5,387.39 480.0,387.38 480.5,387.37 481.0,387.35 481.5,387.34 482.0,387.33 482.5,387.31 483.0,387.30 483.5,387.29 484.0,387.28 484.5,387.26 485.0,387.25 485.5,387.24 486.0,387.22 486.5,387.21 487.0,387.20 487.5,387.19 488.0,387.17 488.5,387.16 489.0,387.15 489.5,387.14 490.0,387.12 490.5,387.11 491.0,387.10 491.5,387.09 492.0,387.07 492.5,387.06 493.0,387.05 493.5,387.04 494.0,387.02 494.5,387.01 495.0,387.00 495.5,386.99 496.0,386.98 496.5,386.96 497.0,386.95 497.5,386.94 498.0,386.93 498.5,386.92 499.0,386.90 499.5,386.89 500.0,386.88 500.5,386.87 501.0,386.86 501.5,386.85 502.0,386.83 502.5,386.82 503.0,386.81 503.5,386.80 504.0,386.79 504.5,386.78 505.0,386.77 505.5,386.75 506.0,386.74 506.5,386.73 507.0,386.72 507.5,386.71 508.0,386.70 508.5,386.69 509.0,386.68 509.5,386.67 510.0,386.66 510.5,386.64 511.0,386.63 511.5,386.62 512.0,386.61 512.5,386.60 513.0,386.59 513.5,386.58 514.0,386.57 514.5,386.56 515.0,386.55 515.5,386.54 516.0,386.53 516.5,386.52 517.0,386.51 517.5,386.50 518.0,386.49 518.5,386.48 519.0,386.47 519.5,386.46 520.0,386.45 520.5,386.44 521.0,386.43 521.5,386.42 522.0,386.41 522.5,386.40 523.0,386.39 523.5,386.38 524.0,386.37 524.5,386.36 525.0,386.35 525.5,386.34 526.0,386.33 526.5,386.33 527.0,386.32 527.5,386.31 528.0,386.30 528.5,386.29 529.0,386.28 529.5,386.27 530.0,386.26 530.5,386.25 531.0,386.25 531.5,386.24 532.0,386.23 532.5,386.22 533.0,386.21 533.5,386.20 534.0,386.19 534.5,386.19 535.0,386.18 535.5,386.17 536.0,386.16 536.5,386.15 537.0,386.14 537.5,386.14 538.0,386.13 538.5,386.12 539.0,386.11 539.5,386.11 540.0,386.10 540.5,386.09 541.0,386.08 541.5,386.07 542.0,386.07 542.5,386.06 543.0,386.05 543.5,386.05 544.0,386.04 544.5,386.03 545.0,386.02 545.5,386.02 546.0,386.01 546.5,386.00 547.0,386.00 547.5,385.99 548.0,385.98 548.5,385.98 549.0,385.97 549.5,385.96 550.0,385.95 550.5,385.95 551.0,385.94 551.5,385.93 552.0,385.93 552.5,385.92 553.0,385.91 553.5,385.91 554.0,385.90 554.5,385.89 555.0,385.89 555.5,385.88 556.0,385.87 556.5,385.86 557.0,385.86 557.5,385.85 558.0,385.84 558.5,385.84 559.0,385.83 559.5,385.82 560.0,385.82 560.5,385.81 561.0,385.80 561.5,385.80 562.0,385.79 562.5,385.78 563.0,385.78 563.5,385.77 564.0,385.76 564.5,385.76 565.0,385.75 565.5,385.75 566.0,385.74 566.5,385.73 567.0,385.73 567.5,385.72 568.0,385.71 568.5,385.71 569.0,385.70 569.5,385.70 570.0,385.69 570.5,385.68 571.0,385.68 571.5,385.67 572.0,385.67 572.5,385.66 573.0,385.65 573.5,385.65 574.0,385.64 574.5,385.64 575.0,385.63 575.5,385.63 576.0,385.62 576.5,385.61 577.0,385.61 577.5,385.60 578.0,385.60 578.5,385.59 579.0,385.59 579.5,385.58 580.0,385.58 580.5,385.57 581.0,385.57 581.5,385.56 582.0,385.56 582.5,385.56 583.0,385.55 583.5,385.55 584.0,385.54 584.5,385.54 585.0,385.53 585.5,385.53 586.0,385.52 586.5,385.52 587.0,385.52 587.5,385.51 588.0,385.51 588.5,385.51 589.0,385.50 589.5,385.50 590.0,385.50 590.5,385.49 591.0,385.49 591.5,385.49 592.0,385.48 592.5,385.48 593.0,385.48 593.5,385.47 594.0,385.47 594.5,385.47 595.0,385.47 595.5,385.46 596.0,385.46 596.5,385.46 597.0,385.46 597.5,385.46 598.0,385.45 598.5,385.45 599.0,385.45 599.5,385.45 600.0,385.45 600.5,385.45 601.0,385.45 601.5,385.44 602.0,385.44 602.5,385.44 603.0,385.44 603.5,385.44 604.0,385.44 604.5,385.44 605.0,385.43 605.5,385.43 606.0,385.43 606.5,385.43 607.0,385.43 607.5,385.43 608.0,385.43 608.5,385.42 609.0,385.42 609.5,385.42 610.0,385.42 610.5,385.42 611.0,385.42 611.5,385.42 612.0,385.42 612.5,385.42 613.0,385.41 613.5,385.41 614.0,385.41 614.5,385.41 615.0,385.41 615.5,385.41 616.0,385.41 616.5,385.41 617.0,385.41 617.5,385.41 618.0,385.41 618.5,385.41 619.0,385.40 619.5,385.40 620.0,385.40 620.5,385.40 621.0,385.40 621.5,385.40 622.0,385.40 622.5,385.40 623.0,385.40 623.5,385.40 624.0,385.40 624.5,385.40 625.0,385.40 625.5,385.40 626.0,385.40" fill="none" stroke="#0000ff" stroke-width="2.4" stroke-linejoin="round" shape-rendering="crispEdges"/>
<path shape-rendering="crispEdges" fill="#000" d="M77 374h654v1h-654zM77 518h654v1h-654zM77 374v145h1v-145zM730 374v145h1v-145z"/>
<text transform="translate(72.60 379.00) scale(0.9050 1)" text-anchor="end" xml:space="preserve">0.8</text>
<text transform="translate(72.60 407.00) scale(0.9050 1)" text-anchor="end" xml:space="preserve">0.6</text>
<text transform="translate(72.60 436.00) scale(0.9050 1)" text-anchor="end" xml:space="preserve">0.4</text>
<text transform="translate(72.60 465.00) scale(0.9050 1)" text-anchor="end" xml:space="preserve">0.2</text>
<text transform="translate(72.60 494.00) scale(0.9050 1)" text-anchor="end" xml:space="preserve">0</text>
<text transform="translate(72.60 523.00) scale(0.9050 1)" text-anchor="end" xml:space="preserve">-0.2</text>
<text transform="translate(77.50 534.00) scale(0.9050 1)" text-anchor="middle" xml:space="preserve">0</text>
<text transform="translate(207.50 534.00) scale(0.9050 1)" text-anchor="middle" xml:space="preserve">50</text>
<text transform="translate(338.50 534.00) scale(0.9050 1)" text-anchor="middle" xml:space="preserve">100</text>
<text transform="translate(468.50 534.00) scale(0.9050 1)" text-anchor="middle" xml:space="preserve">150</text>
<text transform="translate(599.50 534.00) scale(0.9050 1)" text-anchor="middle" xml:space="preserve">200</text>
<text transform="translate(730.50 534.00) scale(0.9050 1)" text-anchor="middle" xml:space="preserve">250</text>
<text transform="translate(375.00 551.00) scale(0.9050 1)" text-anchor="start" xml:space="preserve" textLength="58.01" lengthAdjust="spacingAndGlyphs">Iterations</text>
<text transform="translate(41.30 473.40) rotate(-90) scale(0.9050 1)" text-anchor="start" xml:space="preserve" textLength="21.66" lengthAdjust="spacingAndGlyphs">PPI</text>
<text transform="translate(41.30 448.40) rotate(-90) scale(0.9050 1)" text-anchor="start" xml:space="preserve" textLength="34.03" lengthAdjust="spacingAndGlyphs">value</text>
</svg></body></html>
